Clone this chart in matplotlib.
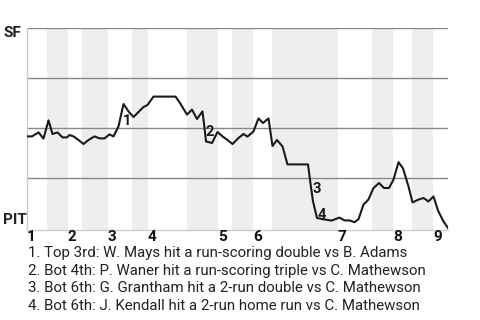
import matplotlib
matplotlib.use("Agg")
import matplotlib.pyplot as plt

plt.rcParams['font.family'] = ['Roboto', 'DejaVu Sans']

# play index (game progress) and SF win probability
plays = [0, 1, 2.3, 3.3, 4.3, 5.1, 6.1, 7.1, 8.0, 8.5, 9.3, 10.3, 11.3, 12.3,
         13.5, 14.5, 15.5, 16.5, 17.3, 18.3, 19.3, 20.3, 21.3, 22.3, 23.3,
         24.1, 25.3, 29.7, 30.6, 32, 33, 34, 35.1, 35.5, 35.8, 37, 38.1, 39.1,
         40.1, 41.1, 42.3, 43.3, 44.1, 45.3, 46.3, 47.2, 48.3, 49.1, 50, 51.1,
         52.1, 56.2, 56.7, 57.2, 58, 59.2, 60.9, 62.5, 63.5, 64.5, 65.5, 66.3,
         67.3, 68.3, 69.3, 70.4, 71.4, 72.4, 73.3, 74.3, 75.2, 76.3, 77.1,
         78.3, 79.3, 80.3, 81.3, 82.2, 83.3, 84.2]
sf_wp = [0.458, 0.458, 0.478, 0.447, 0.538, 0.47, 0.478, 0.453, 0.453, 0.465,
         0.458, 0.44, 0.42, 0.44, 0.458, 0.448, 0.448, 0.468, 0.458, 0.508,
         0.62, 0.583, 0.555, 0.58, 0.605, 0.615, 0.657, 0.657, 0.625, 0.567,
         0.592, 0.545, 0.583, 0.5, 0.433, 0.425, 0.48, 0.458, 0.44, 0.42,
         0.45, 0.47, 0.457, 0.483, 0.548, 0.525, 0.548, 0.41, 0.44, 0.408,
         0.318, 0.318, 0.222, 0.133, 0.05, 0.044, 0.037, 0.052, 0.038, 0.038,
         0.029, 0.044, 0.117, 0.143, 0.2, 0.225, 0.2, 0.2, 0.242, 0.329,
         0.298, 0.208, 0.128, 0.142, 0.15, 0.133, 0.158, 0.087, 0.033, 0.0]

# half-inning boundaries in play units
half_innings = [0, 4, 8.2, 11, 16.2, 21, 24.2, 32, 38.2, 41, 45.2, 49, 62.2,
                69, 73.2, 77, 81.2, 84.2]
inning_labels = ["1", "2", "3", "4", "5", "6", "7", "8", "9"]

# key plays: index into the arrays, and label offset in pixels
events = [(20, (3, -17)), (34, (4, 9)), (52, (6, -5)), (54, (5, 3))]
event_texts = [
    "1. Top 3rd: W. Mays hit a run-scoring double vs B. Adams",
    "2. Bot 4th: P. Waner hit a run-scoring triple vs C. Mathewson",
    "3. Bot 6th: G. Grantham hit a 2-run double vs C. Mathewson",
    "4. Bot 6th: J. Kendall hit a 2-run home run vs C. Mathewson",
]

fig = plt.figure(figsize=(4.8, 3.2), dpi=100)
ax = fig.add_axes([27 / 480, 1 - 230 / 320, 421 / 480, 202 / 320])

# shade bottom halves
for i in range(1, len(half_innings) - 1, 2):
    ax.axvspan(half_innings[i], half_innings[i + 1], color="#eeeeee", lw=0, zorder=0)

for g in [0.25, 0.5, 0.75, 1.0]:
    ax.axhline(g, color="#888888", lw=1, zorder=1)

ax.plot(plays, sf_wp, color="#1a1a1a", lw=1.5, zorder=3)

for num, (idx, off) in enumerate(events, start=1):
    ax.annotate(str(num), (plays[idx], sf_wp[idx]), xytext=off,
                textcoords="offset pixels", ha="center", va="center",
                fontsize=10.5, fontweight="bold", color="#1a1a1a", zorder=4)

ax.set_xlim(0, half_innings[-1])
ax.set_ylim(-0.01, 1.0)
ax.set_xticks([])
ax.set_yticks([])
for s in ["top", "right"]:
    ax.spines[s].set_visible(False)
for s in ["left", "bottom"]:
    ax.spines[s].set_color("#cccccc")
    ax.spines[s].set_linewidth(1)

# team labels
fig.text(3 / 480, 1 - 33 / 320, "SF", fontsize=11, fontweight="bold",
         ha="left", va="center", color="#222222")
fig.text(3 / 480, 1 - 220 / 320, "PIT", fontsize=11, fontweight="bold",
         ha="left", va="center", color="#222222")

# inning labels at the start of each top half
for lab, x0 in zip(inning_labels, half_innings[0:-1:2]):
    ax.text(x0, -0.045, lab, transform=ax.transData, ha="left", va="center",
            fontsize=11, fontweight="bold", color="#111111", clip_on=False)

for i, t in enumerate(event_texts):
    fig.text(28 / 480, 1 - (253 + i * 17.7) / 320, t, fontsize=10.8,
             ha="left", va="center", color="#222222")

fig.savefig("out.png", dpi=100)
